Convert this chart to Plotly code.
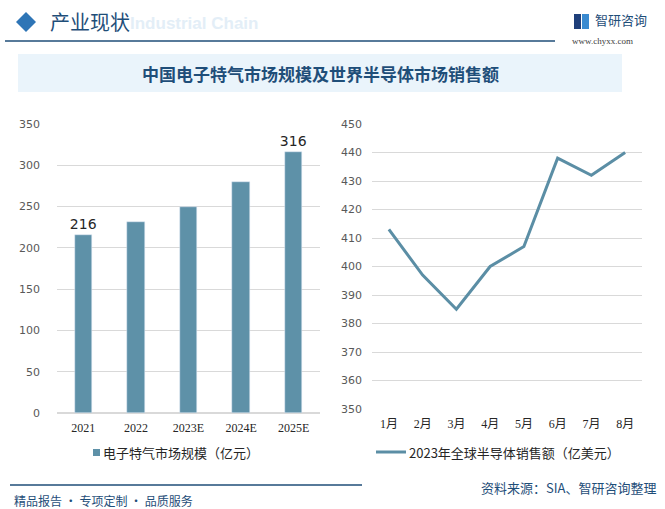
import plotly.graph_objects as go

years = ["2021", "2022", "2023E", "2024E", "2025E"]
market_size = [216, 231, 249, 280, 316]
bar_labels = ["216", "", "", "", "316"]

months = ["1月", "2月", "3月", "4月", "5月", "6月", "7月", "8月"]
semi_sales = [413, 397, 385, 400, 407, 438, 432, 440]

W, H = 665, 509
def px(x): return x / W
def py(y): return 1 - y / H

BAR_C = "#5e91a8"
LINE_C = "#5b8ea5"
DARK = "#1f4e79"
CJK = "Noto Sans CJK SC"

fig = go.Figure()
fig.add_trace(go.Bar(
    x=years, y=market_size, text=bar_labels, textposition="outside", constraintext="none",
    textfont=dict(size=14, color="#262626", family="DejaVu Sans"),
    marker_color=BAR_C, width=0.33, cliponaxis=False,
    xaxis="x", yaxis="y", name="电子特气市场规模（亿元）", showlegend=False))
fig.add_trace(go.Scatter(
    x=months, y=semi_sales, mode="lines", line=dict(color=LINE_C, width=3),
    xaxis="x2", yaxis="y2", name="2023年全球半导体销售额（亿美元）", showlegend=False))

grid = "#d9d9d9"
tickf = dict(size=11, color="#595959", family="DejaVu Sans")
xtickf = dict(size=12, color="#262626", family="Liberation Serif, " + CJK)
fig.update_layout(
    width=W, height=H, margin=dict(l=0, r=0, t=0, b=0, autoexpand=False),
    paper_bgcolor="white", plot_bgcolor="white", bargap=0,
    xaxis=dict(domain=[px(57), px(320)], anchor="y", showgrid=False, showline=False,
               tickfont=xtickf, ticks="", ticklabelstandoff=6, automargin=False),
    yaxis=dict(domain=[py(413), py(124)], anchor="x", range=[0, 350], dtick=50,
               gridcolor=grid, zeroline=True, zerolinecolor=grid, showline=False,
               tickfont=tickf, ticks="", ticklabelstandoff=16, automargin=False),
    xaxis2=dict(domain=[px(372), px(642)], anchor="y2", showgrid=False, showline=False,
                tickfont=xtickf, ticks="", range=[-0.5, 7.5], ticklabelstandoff=6, automargin=False),
    yaxis2=dict(domain=[py(409), py(124)], anchor="x2", range=[350, 450], dtick=10,
                gridcolor=grid, zeroline=False, showline=False,
                tickfont=tickf, ticks="", ticklabelstandoff=9, automargin=False),
)

shapes = []
shapes.append(dict(type="path", xref="paper", yref="paper",
                   path=f"M {px(16)} {py(22)} L {px(26)} {py(12)} L {px(36)} {py(22)} L {px(26)} {py(32)} Z",
                   fillcolor="#2e75b6", line=dict(width=0)))
shapes.append(dict(type="line", xref="paper", yref="paper", x0=px(5), x1=px(555), y0=py(41), y1=py(41),
                   line=dict(color=DARK, width=1.5)))
shapes.append(dict(type="rect", xref="paper", yref="paper", x0=px(574), x1=px(581), y0=py(29), y1=py(14),
                   fillcolor="#1f3f7a", line=dict(width=0)))
shapes.append(dict(type="rect", xref="paper", yref="paper", x0=px(582), x1=px(589), y0=py(29), y1=py(14),
                   fillcolor="#3a8ad0", line=dict(width=0)))
shapes.append(dict(type="rect", xref="paper", yref="paper", x0=px(18), x1=px(622), y0=py(92), y1=py(54),
                   fillcolor="#eaf4fb", line=dict(width=0), layer="below"))
shapes.append(dict(type="line", xref="paper", yref="paper", x0=px(10), x1=px(362), y0=py(485), y1=py(485),
                   line=dict(color=DARK, width=1.5)))
shapes.append(dict(type="rect", xref="paper", yref="paper", x0=px(93), x1=px(100), y0=py(456), y1=py(449),
                   fillcolor=BAR_C, line=dict(width=0)))
shapes.append(dict(type="line", xref="paper", yref="paper", x0=px(376), x1=px(406), y0=py(452), y1=py(452),
                   line=dict(color=LINE_C, width=3)))
fig.update_layout(shapes=shapes)

ann = []
def text(x, y, s, size, color, xanchor="left", family=CJK, bold=False):
    if bold:
        s = f"<b>{s}</b>"
    ann.append(dict(x=px(x), y=py(y), xref="paper", yref="paper", text=s, showarrow=False,
                    xanchor=xanchor, yanchor="middle", font=dict(size=size, color=color, family=family)))

text(128, 24, "Industrial Chain", 17, "#e3eef7", family="Liberation Sans", bold=True)
text(48, 21, "产业现状", 20, DARK)
text(593, 20, "智研咨询", 13, DARK)
text(570, 41, "www.chyxx.com", 9, "#404040", family="Liberation Serif")
text(320, 73, "中国电子特气市场规模及世界半导体市场销售额", 17, DARK, xanchor="center", bold=True)
text(101, 452, "电子特气市场规模（亿元）", 13, "#262626")
text(407, 452, "2023年全球半导体销售额（亿美元）", 13, "#262626")
text(12, 500, "精品报告 · 专项定制 · 品质服务", 12, DARK)
text(658, 487, "资料来源：SIA、智研咨询整理", 13, DARK, xanchor="right")
fig.update_layout(annotations=ann)

post = (
    "var d=document.getElementById('{plot_id}');"
    "d.style.position='fixed';d.style.top='0px';d.style.left='0px';"
    "var h=document.documentElement, b=document.body;"
    "h.style.margin='0';b.style.margin='0';h.style.padding='0';b.style.padding='0';"
    "h.style.overflow='hidden';b.style.overflow='hidden';"
    "h.style.height='509px';b.style.height='509px';"
)
fig.write_html("out.html", config={"displayModeBar": False}, post_script=post)
